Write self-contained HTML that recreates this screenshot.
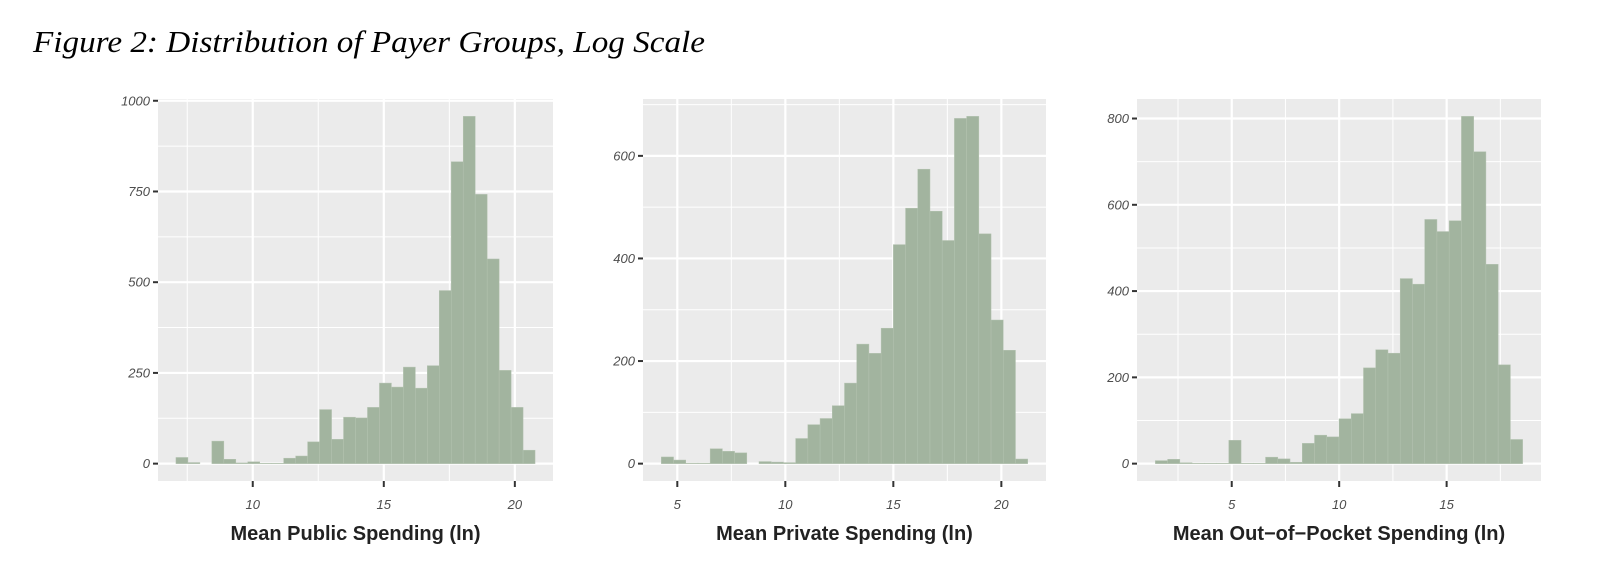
<!DOCTYPE html>
<html><head><meta charset="utf-8"><style>
html,body{margin:0;padding:0;background:#fff;}
svg{display:block;}
</style></head><body>
<svg id="fig" width="1605" height="576" xmlns="http://www.w3.org/2000/svg">
<text x="33" y="52" font-family="Liberation Serif, serif" font-style="italic" font-size="31" fill="#000" textLength="672" lengthAdjust="spacingAndGlyphs">Figure 2: Distribution of Payer Groups, Log Scale</text>
</svg>
<script>
// Panel 1: Mean Public Spending (ln)
const publicStart = 7.07, publicBinWidth = 0.4567;
const publicCounts = [17,3,0,62,12,2,5,1,1,15,21,60,149,67,128,126,155,222,211,266,208,270,477,832,957,742,564,257,155,37];
const publicXTicks = [10,15,20];
const publicYTicks = [0,250,500,750,1000];
// Panel 2: Mean Private Spending (ln)
const privateStart = 4.26, privateBinWidth = 0.5653;
const privateCounts = [13,7,1,1,29,24,21,0,4,3,2,49,76,88,113,157,233,215,264,427,498,574,492,435,673,677,448,280,221,9];
const privateXTicks = [5,10,15,20];
const privateYTicks = [0,200,400,600];
// Panel 3: Mean Out-of-Pocket Spending (ln)
const oopStart = 1.446, oopBinWidth = 0.5697;
const oopCounts = [7,10,2,1,1,1,54,1,1,15,11,3,47,66,62,104,116,222,264,256,429,416,566,538,563,805,723,462,229,56];
const oopXTicks = [5,10,15];
const oopYTicks = [0,200,400,600,800];
const titles = ["Mean Public Spending (ln)","Mean Private Spending (ln)","Mean Out\u2212of\u2212Pocket Spending (ln)"];

const NS="http://www.w3.org/2000/svg";
const svg=document.getElementById('fig');
function mk(tag,attrs,parent){const e=document.createElementNS(NS,tag);for(const k in attrs)e.setAttribute(k,attrs[k]);(parent||svg).appendChild(e);return e;}

function panel(cfg){
  const {left,right,top,bottom,start,bw,counts,xt,yt,title,key}=cfg;
  const n=counts.length, xmin=start, xmax=start+n*bw, span=xmax-xmin;
  const dx0=xmin-0.05*span, dx1=xmax+0.05*span;
  const ymaxD=Math.max(...counts), y0=-0.05*ymaxD, y1=ymaxD*1.05;
  const X=v=>left+(v-dx0)/(dx1-dx0)*(right-left);
  const Y=v=>bottom-(v-y0)/(y1-y0)*(bottom-top);
  const g=mk('g',{});
  
  
  const bg=mk('rect',{x:left,y:top,width:right-left,height:bottom-top,fill:'#ebebeb'},g);
  
  
  const ystep=yt[1]-yt[0], xstep=xt[1]-xt[0];
  for(let v=yt[0]-ystep/2; v<=y1; v+=ystep){ if(v<y0) continue;
    const l=mk('line',{x1:left,x2:right,y1:Y(v),y2:Y(v),stroke:'#fff','stroke-width':1},g);
    
    }
  for(let v=xt[0]-xstep*2.5; v<=dx1; v+=xstep){ if(v<dx0) continue;
    const l=mk('line',{x1:X(v),x2:X(v),y1:top,y2:bottom,stroke:'#fff','stroke-width':1},g);
    
    }
  yt.forEach(v=>{
    const l=mk('line',{x1:left,x2:right,y1:Y(v),y2:Y(v),stroke:'#fff','stroke-width':2.2},g);
    
    
    const t=mk('line',{x1:left-5,x2:left,y1:Y(v),y2:Y(v),stroke:'#333','stroke-width':2},g);
    
    
    const lb=mk('text',{x:left-8,y:Y(v)+4.5,'text-anchor':'end','font-family':'Liberation Sans, sans-serif','font-style':'italic','font-size':13,fill:'#4d4d4d'},g);
    lb.textContent=v;
    
    
  });
  xt.forEach(v=>{
    const l=mk('line',{x1:X(v),x2:X(v),y1:top,y2:bottom,stroke:'#fff','stroke-width':2.2},g);
    
    
    const t=mk('line',{x1:X(v),x2:X(v),y1:bottom,y2:bottom+6,stroke:'#333','stroke-width':2},g);
    
    
    const lb=mk('text',{x:X(v),y:bottom+28,'text-anchor':'middle','font-family':'Liberation Sans, sans-serif','font-style':'italic','font-size':13,fill:'#4d4d4d'},g);
    lb.textContent=v;
    
    
  });
  counts.forEach((c,i)=>{
    const xa=X(start+i*bw), xb=X(start+(i+1)*bw);
    const r=mk('rect',{x:xa,y:Y(c),width:xb-xa,height:Y(0)-Y(c),fill:'#a2b49f',stroke:'#b4c3b1','stroke-width':0.5},g);
    
    
  });
  const tt=mk('text',{x:(left+right)/2,y:540,'text-anchor':'middle','font-family':'Liberation Sans, sans-serif','font-weight':'bold','font-size':20,fill:'#222'},g);
  tt.textContent=title;
  
  
}
panel({left:158,right:553,top:99,bottom:481,start:publicStart,bw:publicBinWidth,counts:publicCounts,xt:publicXTicks,yt:publicYTicks,title:titles[0],key:'public'});
panel({left:643,right:1046,top:99,bottom:481,start:privateStart,bw:privateBinWidth,counts:privateCounts,xt:privateXTicks,yt:privateYTicks,title:titles[1],key:'private'});
panel({left:1137,right:1541,top:99,bottom:481,start:oopStart,bw:oopBinWidth,counts:oopCounts,xt:oopXTicks,yt:oopYTicks,title:titles[2],key:'oop'});
</script>
</body></html>
